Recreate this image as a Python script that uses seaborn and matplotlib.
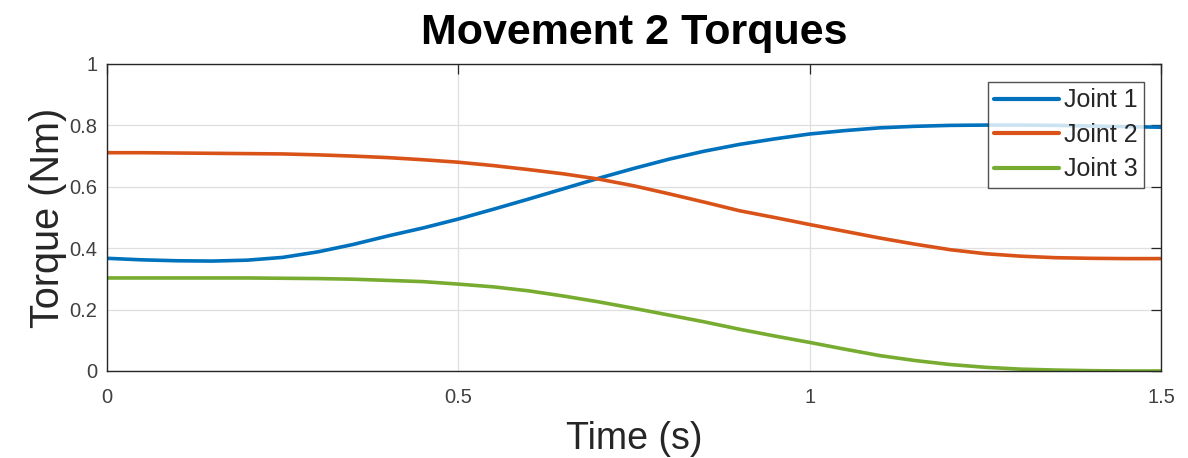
import numpy as np
import pandas as pd
import matplotlib
matplotlib.use("Agg")
import matplotlib.pyplot as plt
import seaborn as sns

# values
time_s = [0.0, 0.05, 0.1, 0.15, 0.2, 0.25, 0.3, 0.35, 0.4, 0.45, 0.5,
          0.55, 0.6, 0.65, 0.7, 0.75, 0.8, 0.85, 0.9, 0.95, 1.0,
          1.05, 1.1, 1.15, 1.2, 1.25, 1.3, 1.35, 1.4, 1.45, 1.5]
joint1 = [0.367, 0.362, 0.359, 0.358, 0.361, 0.370, 0.388, 0.412, 0.440, 0.466, 0.495,
          0.527, 0.560, 0.594, 0.628, 0.660, 0.690, 0.716, 0.738, 0.756, 0.772,
          0.783, 0.792, 0.797, 0.800, 0.801, 0.801, 0.800, 0.798, 0.796, 0.794]
joint2 = [0.711, 0.711, 0.710, 0.709, 0.708, 0.707, 0.704, 0.700, 0.695, 0.688, 0.680,
          0.669, 0.656, 0.642, 0.625, 0.603, 0.577, 0.550, 0.522, 0.500, 0.477,
          0.455, 0.433, 0.413, 0.395, 0.382, 0.374, 0.369, 0.367, 0.366, 0.366]
joint3 = [0.303, 0.303, 0.303, 0.303, 0.303, 0.302, 0.301, 0.299, 0.295, 0.291, 0.283,
          0.274, 0.261, 0.244, 0.225, 0.204, 0.182, 0.160, 0.136, 0.114, 0.093,
          0.071, 0.050, 0.034, 0.021, 0.012, 0.006, 0.003, 0.001, 0.000, 0.000]
labels = ["Joint 1", "Joint 2", "Joint 3"]
colors = ["#0072BD", "#D95319", "#77AC30"]

rows = []
for name, vals in zip(labels, [joint1, joint2, joint3]):
    for t, v in zip(time_s, vals):
        rows.append({"Time": t, "Torque": v, "Joint": name})
df = pd.DataFrame(rows)

sns.set_style("white")
plt.rcParams["font.family"] = ["Liberation Sans", "DejaVu Sans"]

fig = plt.figure(figsize=(11.88, 4.58), dpi=100)
ax = fig.add_axes([0.0901, 0.190, 0.8872, 0.6703])

sns.lineplot(data=df, x="Time", y="Torque", hue="Joint", palette=colors,
             linewidth=2.6, ax=ax)

ax.set_xlim(0, 1.5)
ax.set_ylim(0, 1)
ax.set_xticks([0, 0.5, 1, 1.5])
ax.set_xticklabels(["0", "0.5", "1", "1.5"])
ax.set_yticks([0, 0.2, 0.4, 0.6, 0.8, 1])
ax.set_yticklabels(["0", "0.2", "0.4", "0.6", "0.8", "1"])
ax.grid(True, color="#dfdfdf", linewidth=0.9)
ax.tick_params(direction="in", length=7, width=0.9, colors="#262626",
               labelsize=14.5, top=True, right=True)
ax.tick_params(axis="x", pad=12)
ax.tick_params(axis="y", pad=7)
for lab in ax.get_xticklabels() + ax.get_yticklabels():
    lab.set_color("#404040")
for s in ax.spines.values():
    s.set_color("#262626")
    s.set_linewidth(1.0)

ax.set_xlabel("Time (s)", fontsize=27, color="#262626", labelpad=10)
ax.set_ylabel("Torque (Nm)", fontsize=28.5, color="#262626", labelpad=2)
ax.set_title("Movement 2 Torques", fontsize=31, fontweight="bold", color="black", pad=14.5)

leg = ax.legend(loc="upper right", bbox_to_anchor=(0.984, 0.941), fontsize=18,
                frameon=True, fancybox=False, edgecolor="#262626",
                handlelength=2.6, handletextpad=0.2, borderpad=0.25,
                labelspacing=0.42, borderaxespad=0)
leg.get_frame().set_linewidth(1.0)
for line in leg.get_lines():
    line.set_linewidth(3.0)
for txt in leg.get_texts():
    txt.set_color("#262626")

fig.savefig("out.png", dpi=100)
